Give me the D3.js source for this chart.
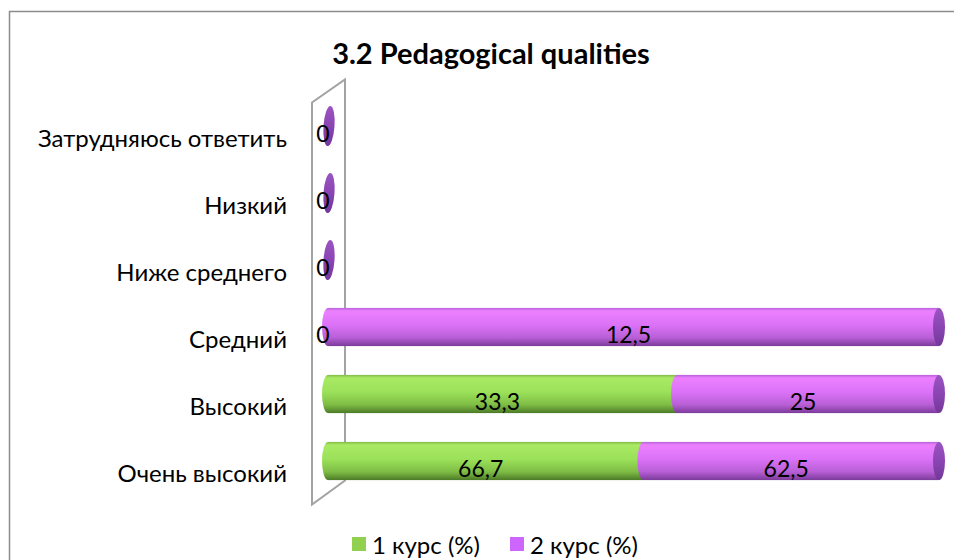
<!DOCTYPE html>
<html>
<head>
<meta charset="utf-8">
<script src="https://cdn.jsdelivr.net/npm/d3@7"></script>
<style>
  body { margin: 0; background: #fff; }
  svg { font-family: Lato, "Open Sans", sans-serif; }
</style>
</head>
<body>
<div id="chart"></div>
<script>
const categories = ["Затрудняюсь ответить", "Низкий", "Ниже среднего", "Средний", "Высокий", "Очень высокий"];
const seriesNames = ["1 курс (%)", "2 курс (%)"];
const course1 = [0, 0, 0, 0, 33.3, 66.7];
const course2 = [0, 0, 0, 12.5, 25, 62.5];
const valueLabels1 = ["0", "0", "0", "0", "33,3", "66,7"];
const valueLabels2 = ["0", "0", "0", "12,5", "25", "62,5"];

const width = 954, height = 560;

// table for d3.stack
const rows = categories.map((c, i) => ({
    cat: c,
    [seriesNames[0]]: course1[i],
    [seriesNames[1]]: course2[i],
    lab: [valueLabels1[i], valueLabels2[i]]
}));

const stacked = d3.stack()
    .keys(seriesNames)
    .offset(d3.stackOffsetExpand)(rows);

const svg = d3.select("#chart")
    .append("svg")
    .attr("width", width)
    .attr("height", height);

// chart border
svg.append("rect")
    .attr("x", 9.5).attr("y", 11.5)
    .attr("width", 970).attr("height", 580)
    .attr("fill", "#fff")
    .attr("stroke", "#8c8c8c")
    .attr("stroke-width", 1.5);

let x = d3.scaleLinear()
    .domain([0, 1])
    .range([328, 939]);

let y = d3.scaleBand()
    .domain(categories)
    .range([92.5, 494.5])
    .paddingInner(0.43)
    .paddingOuter(0.215);

// gradients for the cylinders
const defs = svg.append("defs");
const grads = [
    { id: "g1", stops: [["0%", "#83bb47"], ["8%", "#a9ea64"], ["45%", "#9be159"], ["78%", "#7fbd45"], ["100%", "#4c7a27"]] },
    { id: "g2", stops: [["0%", "#b662d8"], ["8%", "#ec80ff"], ["45%", "#db72f7"], ["78%", "#b85fd6"], ["100%", "#7b3b99"]] },
    { id: "cap", stops: [["0%", "#9a55c2"], ["50%", "#8a45b2"], ["100%", "#73379a"]] }
];
grads.forEach(g => {
    let lg = defs.append("linearGradient")
        .attr("id", g.id)
        .attr("x1", 0).attr("y1", 0).attr("x2", 0).attr("y2", 1);
    g.stops.forEach(s => lg.append("stop").attr("offset", s[0]).attr("stop-color", s[1]));
});

// back wall (3d frame)
const wallL = x(0) - 16, wallR = x(0) + 17;
const wallTop = y.range()[0] + 10, wallBot = y.range()[1] + 10;
const wall = svg.append("g")
    .attr("fill", "none")
    .attr("stroke", "#a3a3a3")
    .attr("stroke-width", 2);
wall.append("path")
    .attr("d", `M${wallL},${wallBot} L${wallL},${wallTop} L${wallR},${wallTop - 23} L${wallR},${wallBot - 24} Z`);

// category axis
const yAxis = svg.append("g")
    .attr("transform", `translate(${wallL},13)`)
    .call(d3.axisLeft(y).tickSize(0).tickPadding(25));
yAxis.select(".domain").remove();
yAxis.selectAll("text")
    .attr("font-size", 24)
    .attr("fill", "#000")
    .style("font-family", "Lato, 'Open Sans', sans-serif");

const bh = y.bandwidth();
const rx = 6;

// cylinder segments
stacked.forEach((s, si) => {
    let g = svg.append("g").attr("class", "series");
    s.forEach((d, i) => {
        if (d[1] - d[0] <= 0) return;
        let cy = y(categories[i]);
        g.append("rect")
            .attr("x", x(d[0]))
            .attr("y", cy)
            .attr("width", x(d[1]) - x(d[0]))
            .attr("height", bh)
            .attr("fill", `url(#g${si + 1})`);
        g.append("ellipse")
            .attr("cx", x(d[0]))
            .attr("cy", cy + bh / 2)
            .attr("rx", rx)
            .attr("ry", bh / 2)
            .attr("fill", `url(#g${si + 1})`);
    });
});

// end caps at the right end of each bar
svg.append("g")
    .selectAll("ellipse")
    .data(stacked[1])
    .join("ellipse")
    .attr("cx", d => x(d[1]) + (d[1] === 0 ? 1 : 0))
    .attr("cy", (d, i) => y(categories[i]) + bh / 2)
    .attr("rx", d => d[1] === 0 ? 5.5 : rx)
    .attr("ry", d => d[1] === 0 ? bh / 2 + 1 : bh / 2)
    .attr("transform", (d, i) => d[1] === 0 ? `rotate(4,${x(0) + 1},${y(categories[i]) + bh / 2})` : null)
    .attr("fill", "url(#cap)");

// value labels
stacked.forEach((s, si) => {
    svg.append("g")
        .selectAll("text")
        .data(s.filter((d, i) => !(si === 1 && d[1] === 0)))
        .join("text")
        .attr("x", d => (x(d[0]) + x(d[1])) / 2 - 5)
        .attr("y", d => y(d.data.cat) + bh / 2 + 7)
        .attr("text-anchor", "middle")
        .attr("dominant-baseline", "central")
        .attr("font-size", 23)
        .attr("fill", "#000")
        .text(d => d.data.lab[si]);
});

// title
svg.append("text")
    .attr("x", 491)
    .attr("y", 52)
    .attr("text-anchor", "middle")
    .attr("dominant-baseline", "central")
    .attr("font-size", 29)
    .attr("font-weight", "bold")
    .text("3.2 Pedagogical qualities");

// legend
const legendColors = ["#92d050", "#cc66ff"];
const legendX = [352, 510];
const lg = svg.append("g")
    .selectAll("g")
    .data(seriesNames)
    .join("g")
    .attr("transform", (d, i) => `translate(${legendX[i]},537)`);
lg.append("rect")
    .attr("width", 14).attr("height", 14)
    .attr("fill", (d, i) => legendColors[i]);
lg.append("text")
    .attr("x", 20)
    .attr("y", 7)
    .attr("dominant-baseline", "central")
    .attr("font-size", 24)
    .text(d => d);
</script>
</body>
</html>
